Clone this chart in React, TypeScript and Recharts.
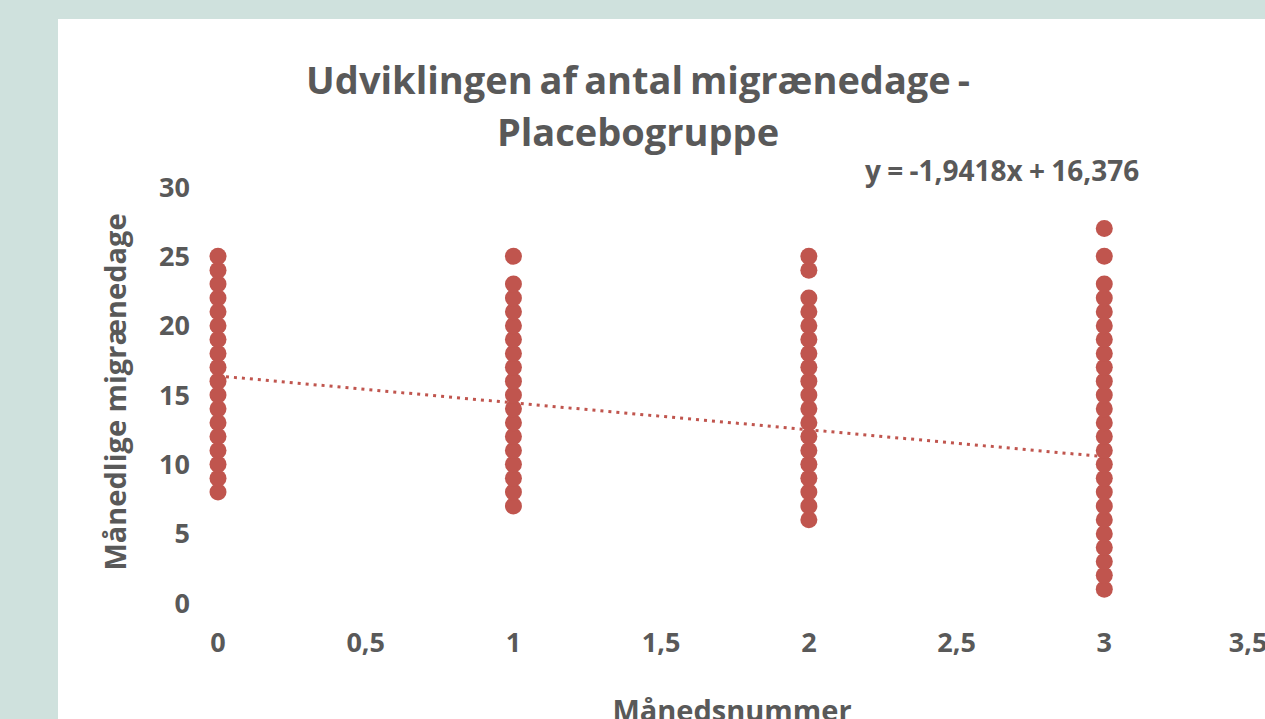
import React from 'react';
import { ScatterChart, Scatter, XAxis, YAxis } from 'recharts';

// Monthly migraine days per patient, by month number (placebo group)
const month0 = [8, 9, 10, 11, 12, 13, 14, 15, 16, 17, 18, 19, 20, 21, 22, 23, 24, 25];
const month1 = [7, 8, 9, 10, 11, 12, 13, 14, 15, 16, 17, 18, 19, 20, 21, 22, 23, 25];
const month2 = [6, 7, 8, 9, 10, 11, 12, 13, 14, 15, 16, 17, 18, 19, 20, 21, 22, 24, 25];
const month3 = [1, 2, 3, 4, 5, 6, 7, 8, 9, 10, 11, 12, 13, 14, 15, 16, 17, 18, 19, 20, 21, 22, 23, 25, 27];

const xTicks = [0, 0.5, 1, 1.5, 2, 2.5, 3, 3.5];
const yTicks = [0, 5, 10, 15, 20, 25, 30];

// linear trendline shown in the chart
const slope = -1.9418;
const intercept = 16.376;
const trendX = [0, 3];

const RED = '#c0554e';
const GREY = '#595959';
const FONT = '"Open Sans", sans-serif';

const points = [month0, month1, month2, month3].flatMap((vals, m) =>
  vals.map((v) => ({ x: m, y: v }))
);
const trend = trendX.map((x) => ({ x, y: slope * x + intercept }));

const Dot = (p: any) => <circle cx={p.cx} cy={p.cy} r={8.5} fill={RED} />;
const NoDot = () => <g />;

const fmt = (v: number) => String(v).replace('.', ',');

export default function App() {
  return (
    <div
      style={{
        position: 'fixed',
        left: 0,
        top: 0,
        width: 1265,
        height: 719,
        background: '#cfe1dd',
        overflow: 'hidden',
        fontFamily: FONT,
      }}
    >
      <div style={{ position: 'absolute', left: 58, top: 19, width: 1300, height: 800, background: '#fff' }} />
      <div
        style={{
          position: 'absolute',
          left: 138,
          width: 1000,
          top: 53,
          textAlign: 'center',
          color: GREY,
          fontWeight: 700,
          fontSize: 38,
          wordSpacing: -3,
          lineHeight: '52px',
        }}
      >
        Udviklingen af antal migrænedage -<br />
        Placebogruppe
      </div>
      <div
        style={{
          position: 'absolute',
          left: 865,
          top: 151,
          color: GREY,
          fontWeight: 700,
          fontSize: 28,
          wordSpacing: -1,
          whiteSpace: 'nowrap',
        }}
      >
        y = -1,9418x + 16,376
      </div>
      <div
        style={{
          position: 'absolute',
          left: 114,
          top: 392,
          transform: 'translate(-50%, -50%) rotate(-90deg)',
          color: GREY,
          fontWeight: 700,
          fontSize: 29,
          whiteSpace: 'nowrap',
        }}
      >
        Månedlige migrænedage
      </div>
      <div
        style={{
          position: 'absolute',
          left: 532,
          width: 400,
          top: 690,
          textAlign: 'center',
          color: GREY,
          fontWeight: 700,
          fontSize: 29,
        }}
      >
        Månedsnummer
      </div>
      <div style={{ position: 'absolute', left: 0, top: 0 }}>
        <ScatterChart width={1265} height={719} margin={{ top: 187, right: 13, bottom: 0, left: 0 }}>
          <XAxis
            type="number"
            dataKey="x"
            domain={[0, 3.5]}
            ticks={xTicks}
            tickFormatter={fmt}
            axisLine={false}
            tickLine={false}
            tickSize={0}
            tickMargin={30}
            height={116}
            tick={{ fill: GREY, fontSize: 27, fontWeight: 700, fontFamily: FONT }}
          />
          <YAxis
            type="number"
            dataKey="y"
            domain={[0, 30]}
            ticks={yTicks}
            axisLine={false}
            tickLine={false}
            tickSize={0}
            tickMargin={28}
            width={218}
            tick={{ fill: GREY, fontSize: 27, fontWeight: 700, fontFamily: FONT }}
          />
          <Scatter
            data={trend}
            line={{ stroke: RED, strokeWidth: 3, strokeDasharray: '3 5' }}
            lineType="joint"
            shape={NoDot}
            isAnimationActive={false}
          />
          <Scatter data={points} shape={Dot} isAnimationActive={false} />
        </ScatterChart>
      </div>
    </div>
  );
}
